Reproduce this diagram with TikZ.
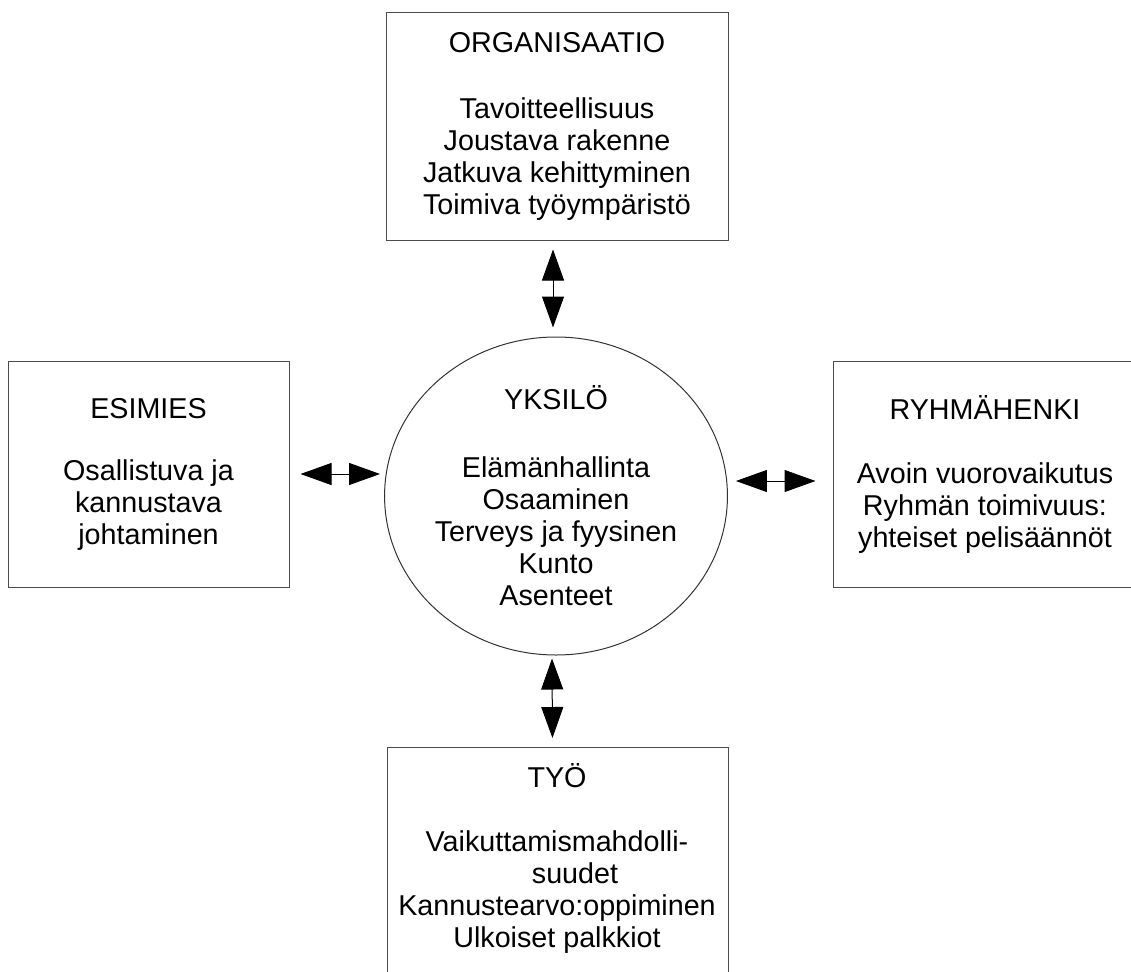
\documentclass[tikz,border=0pt]{standalone}
\usepackage{fontspec}
\setmainfont{Liberation Sans}
\usetikzlibrary{shapes.geometric,arrows.meta}
\begin{document}
\begin{tikzpicture}[x=1pt,y=1pt,
  font=\fontsize{28.7}{32}\selectfont,
  box/.style={draw=black!70, line width=1pt, rectangle, align=center, inner sep=0pt},
  txt/.style={align=center, inner sep=0pt},
  dbl/.style={{Triangle[length=31pt,width=22pt,fill=black]}-{Triangle[length=31pt,width=22pt,fill=black]}, line width=1pt, draw=black}]
\clip (0,0) rectangle (1131,-971);
\fill[white] (0,0) rectangle (1131,-971);
\node[box, minimum width=342pt, minimum height=227pt] (org) at (557,-126.5)
  {ORGANISAATIO\\[34pt]Tavoitteellisuus\\Joustava rakenne\\Jatkuva kehittyminen\\Toimiva työympäristö};
\node[box, minimum width=281pt, minimum height=226pt] (esim) at (148.5,-474)
  {ESIMIES\\[30pt]Osallistuva ja\\kannustava\\johtaminen};
\node[box, minimum width=304pt, minimum height=226pt] (ryh) at (985,-474)
  {RYHMÄHENKI\\[32pt]Avoin vuorovaikutus\\Ryhmän toimivuus:\\yhteiset pelisäännöt};
\node[ellipse, draw=black!80, line width=1pt, align=center, inner sep=0pt,
  minimum width=342pt, minimum height=318pt] (yk) at (556,-496)
  {YKSILÖ\\[36pt]Elämänhallinta\\Osaaminen\\Terveys ja fyysinen\\Kunto\\Asenteet};
\node[box, anchor=north, minimum width=341pt, minimum height=240pt] (tyo) at (557.5,-747) {};
\node[txt] (tyot) at (557,-858)
  {TYÖ\\[32pt]Vaikuttamismahdolli-\\\hspace*{36pt}suudet\\Kannustearvo:oppiminen\\Ulkoiset palkkiot};
\draw[dbl, shorten <=9pt, shorten >=9pt] ([xshift=-4pt]org.south) -- ([xshift=-3pt]yk.north);
\draw[dbl, shorten <=11pt, shorten >=4pt] (esim.east) -- (esim.east -| yk.west);
\draw[dbl, shorten <=8pt, shorten >=17pt] ([yshift=-7pt]ryh.west -| yk.east) -- ([yshift=-7pt]ryh.west);
\draw[dbl, shorten <=3pt, shorten >=9pt] ([xshift=-4pt]yk.south) -- ([xshift=-5pt]tyo.north);
\end{tikzpicture}
\end{document}
